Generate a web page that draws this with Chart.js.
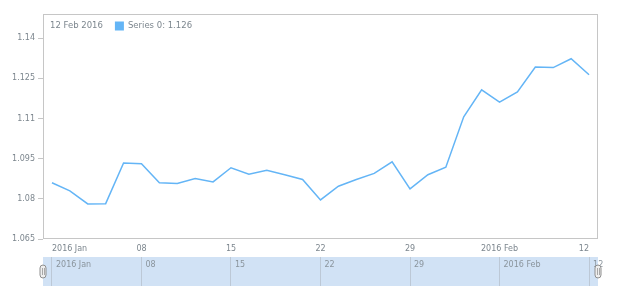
<!DOCTYPE html>
<html>
<head>
<meta charset="utf-8">
<script src="https://cdn.jsdelivr.net/npm/chart.js@4.4.1/dist/chart.umd.min.js"></script>
<style>
  html, body { margin: 0; padding: 0; background: #fff; }
  #wrap { width: 620px; height: 300px; }
</style>
</head>
<body>
<div id="wrap"><canvas id="rateChart" width="620" height="300"></canvas></div>
<script>
// trading days, Jan 1 - Feb 12 2016
var dates = [
    '2016-01-01', '2016-01-04', '2016-01-05', '2016-01-06', '2016-01-07', '2016-01-08',
    '2016-01-11', '2016-01-12', '2016-01-13', '2016-01-14', '2016-01-15',
    '2016-01-18', '2016-01-19', '2016-01-20', '2016-01-21', '2016-01-22',
    '2016-01-25', '2016-01-26', '2016-01-27', '2016-01-28', '2016-01-29',
    '2016-02-01', '2016-02-02', '2016-02-03', '2016-02-04', '2016-02-05',
    '2016-02-08', '2016-02-09', '2016-02-10', '2016-02-11', '2016-02-12'
];
var values = [
    1.0860, 1.0830, 1.0781, 1.0782, 1.0934, 1.0931,
    1.0860, 1.0857, 1.0876, 1.0863, 1.0916,
    1.0892, 1.0907, 1.0890, 1.0872, 1.0796,
    1.0847, 1.0872, 1.0895, 1.0938, 1.0837,
    1.0890, 1.0918, 1.1106, 1.1207, 1.1161,
    1.1199, 1.1292, 1.1290, 1.1323, 1.1263
];
var tickDates = ['2016-01-01', '2016-01-08', '2016-01-15', '2016-01-22', '2016-01-29', '2016-02-05', '2016-02-12'];
var tickLabels = ['2016 Jan', '08', '15', '22', '29', '2016 Feb', '12'];
var yTicks = [1.065, 1.08, 1.095, 1.11, 1.125, 1.14];
var seriesName = 'Series 0';

var lineColor = '#64b5f6';
var textColor = '#7c868e';
var fontFamily = "'DejaVu Sans', Verdana, sans-serif";
var monthNames = ['Jan', 'Feb', 'Mar', 'Apr', 'May', 'Jun', 'Jul', 'Aug', 'Sep', 'Oct', 'Nov', 'Dec'];

Chart.defaults.font.family = fontFamily;
Chart.defaults.color = textColor;

function formatDate(iso) {
    var p = iso.split('-');
    return parseInt(p[2], 10) + ' ' + monthNames[parseInt(p[1], 10) - 1] + ' ' + p[0];
}

function keepWeekTicks(axis) {
    axis.ticks = axis.ticks.filter(function (t) {
        return tickDates.indexOf(dates[t.value]) !== -1;
    });
}

function weekLabel(value) {
    return tickLabels[tickDates.indexOf(dates[value])];
}

// frame round the plot
var framePlugin = {
    id: 'frame',
    beforeDatasetsDraw: function (chart) {
        var a = chart.chartArea, ctx = chart.ctx;
        ctx.save();
        ctx.strokeStyle = '#c6c6c6';
        ctx.lineWidth = 1;
        ctx.strokeRect(a.left + 0.5, a.top + 0.5, a.right - a.left - 1, a.bottom - a.top - 1);
        ctx.restore();
    }
};

// "12 Feb 2016  [] Series 0: 1.126" inside the plot
var headerPlugin = {
    id: 'header',
    afterDatasetsDraw: function (chart) {
        var a = chart.chartArea, ctx = chart.ctx;
        var last = values.length - 1;
        var x = a.left + 7, y = a.top + 12;
        ctx.save();
        ctx.font = '8.5px ' + fontFamily;
        ctx.textBaseline = 'middle';
        ctx.fillStyle = textColor;
        var dateText = formatDate(dates[last]);
        ctx.fillText(dateText, x, y);
        x += ctx.measureText(dateText).width + 12;
        ctx.fillStyle = lineColor;
        ctx.fillRect(x, y - 4.5, 9, 9);
        x += 13;
        ctx.fillStyle = textColor;
        ctx.fillText(seriesName + ': ' + values[last].toFixed(3), x, y);
        ctx.restore();
    }
};

// scroller handles on the navigator band
var handlesPlugin = {
    id: 'handles',
    afterDraw: function (chart) {
        var s = chart.scales.x2, ctx = chart.ctx;
        var cy = (s.top + s.bottom) / 2;
        ctx.save();
        [s.left, s.right].forEach(function (cx) {
            ctx.beginPath();
            ctx.roundRect(cx - 3, cy - 6.5, 6, 13, 3);
            ctx.fillStyle = '#eeeeee';
            ctx.fill();
            ctx.strokeStyle = '#8e8e8e';
            ctx.lineWidth = 1;
            ctx.stroke();
            ctx.beginPath();
            ctx.moveTo(cx - 0.5, cy - 3.5);
            ctx.lineTo(cx - 0.5, cy + 3.5);
            ctx.moveTo(cx + 1.5, cy - 3.5);
            ctx.lineTo(cx + 1.5, cy + 3.5);
            ctx.strokeStyle = '#a8a8a8';
            ctx.stroke();
        });
        ctx.restore();
    }
};

var ctx = document.getElementById('rateChart').getContext('2d');
var rateChart = new Chart(ctx, {
    type: 'line',
    data: {
        labels: dates,
        datasets: [{
            label: seriesName,
            data: values,
            borderColor: lineColor,
            borderWidth: 1.5,
            pointRadius: 0,
            tension: 0,
            fill: false,
            xAxisID: 'x'
        }]
    },
    options: {
        responsive: false,
        animation: false,
        devicePixelRatio: 1,
        layout: { padding: { top: 14, right: 22, bottom: 14, left: 0 } },
        plugins: {
            legend: { display: false },
            tooltip: { enabled: false }
        },
        scales: {
            x: {
                type: 'category',
                position: 'bottom',
                weight: 0,
                offset: true,
                afterBuildTicks: keepWeekTicks,
                afterFit: function (axis) { axis.height = 18; },
                grid: { display: false, drawTicks: false },
                border: { display: false },
                ticks: {
                    autoSkip: false,
                    maxRotation: 0,
                    align: 'inner',
                    padding: 5,
                    color: textColor,
                    font: { size: 8 },
                    callback: weekLabel
                }
            },
            x2: {
                type: 'category',
                position: 'bottom',
                weight: 1,
                offset: true,
                backgroundColor: '#d1e2f5',
                afterBuildTicks: keepWeekTicks,
                afterFit: function (axis) { axis.height = 29; },
                grid: {
                    drawOnChartArea: false,
                    drawTicks: true,
                    tickLength: 29,
                    color: '#bcc8d6',
                    lineWidth: 1
                },
                border: { display: false },
                ticks: {
                    autoSkip: false,
                    maxRotation: 0,
                    align: 'start',
                    labelOffset: 4,
                    padding: -26,
                    color: '#8a949c',
                    font: { size: 8 },
                    callback: weekLabel
                }
            },
            y: {
                min: 1.065,
                max: 1.149,
                afterBuildTicks: function (axis) {
                    axis.ticks = yTicks.map(function (v) { return { value: v }; });
                },
                afterFit: function (axis) { axis.width = 43; },
                grid: {
                    drawOnChartArea: false,
                    drawTicks: true,
                    tickLength: 5,
                    color: '#c6c6c6'
                },
                border: { display: false },
                ticks: {
                    padding: 3,
                    color: textColor,
                    font: { size: 8 },
                    callback: function (value) { return String(parseFloat(value.toFixed(3))); }
                }
            }
        }
    },
    plugins: [framePlugin, headerPlugin, handlesPlugin]
});
</script>
</body>
</html>
